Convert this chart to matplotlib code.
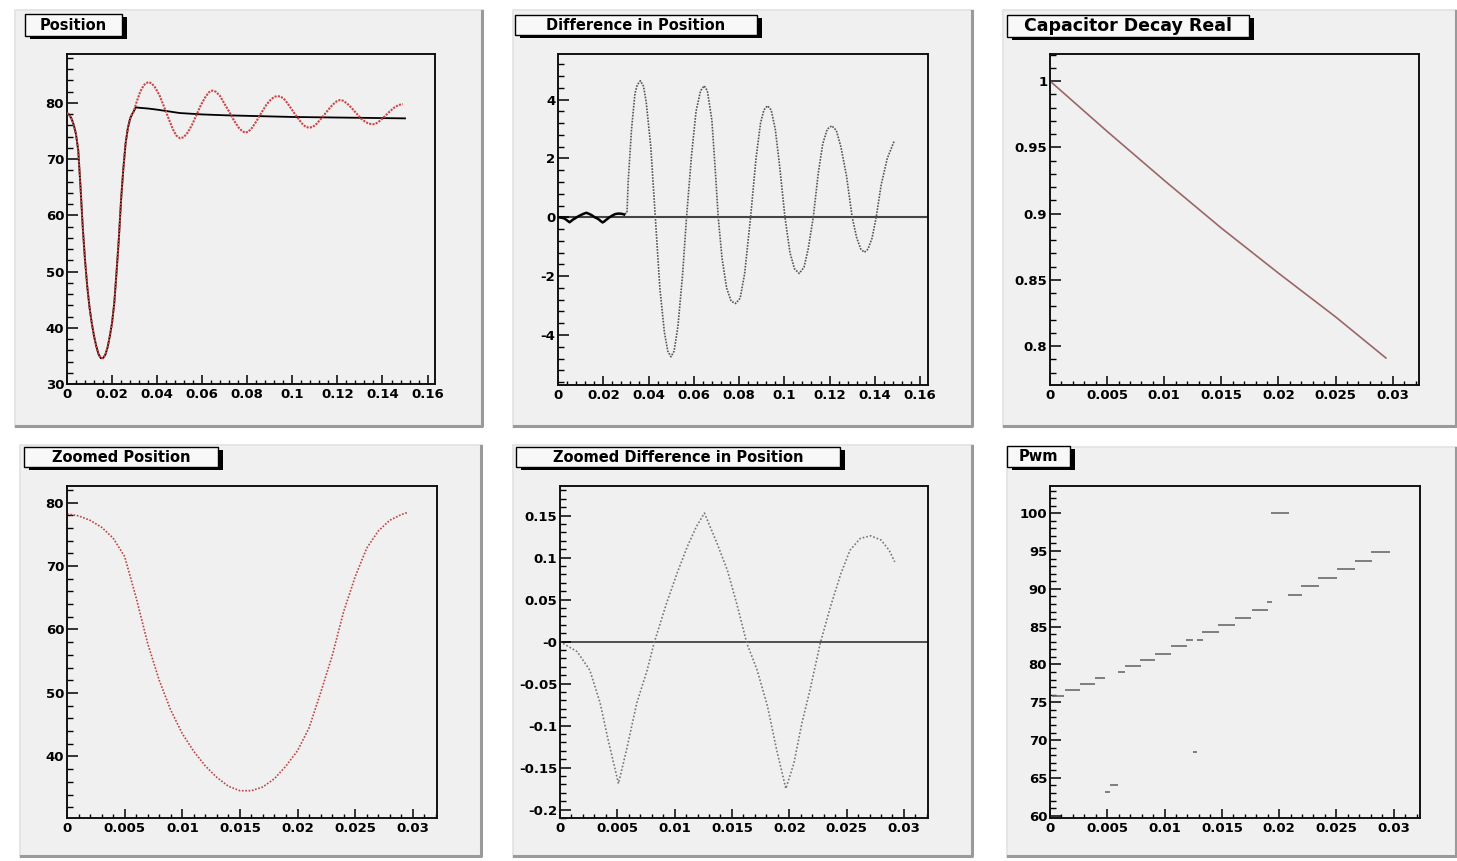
import matplotlib
matplotlib.use('Agg')
import matplotlib.pyplot as plt
from matplotlib.patches import Rectangle
from matplotlib.lines import Line2D
from matplotlib.ticker import MultipleLocator

# ---------------- data ----------------
# Zoomed position (0 .. 0.03 s)
zoom_t = [0.0, 0.001, 0.002, 0.003, 0.004, 0.005, 0.006, 0.007, 0.008, 0.009,
          0.010, 0.011, 0.012, 0.013, 0.014, 0.015, 0.016, 0.017, 0.018, 0.019,
          0.020, 0.021, 0.022, 0.023, 0.024, 0.025, 0.026, 0.027, 0.028, 0.029, 0.0295]
zoom_pos = [78.2, 77.9, 77.2, 76.1, 74.4, 71.5, 65.0, 57.8, 52.0, 47.3,
            43.6, 40.8, 38.5, 36.7, 35.3, 34.6, 34.6, 35.2, 36.5, 38.5,
            40.9, 44.5, 50.0, 55.8, 62.8, 68.3, 72.8, 75.5, 77.2, 78.1, 78.4]

# Simulated position after 0.03 s (red)
late_t = [0.031, 0.0325, 0.034, 0.035, 0.0362, 0.0375, 0.039, 0.041, 0.043, 0.045,
          0.047, 0.0485, 0.0502, 0.0518, 0.0535, 0.0555, 0.0575, 0.0595, 0.0615, 0.063,
          0.0645, 0.066, 0.0678, 0.0698, 0.072, 0.0742, 0.0762, 0.0777, 0.079, 0.0805,
          0.0822, 0.0843, 0.0865, 0.0887, 0.0907, 0.0922, 0.0935, 0.095, 0.0968, 0.0988,
          0.101, 0.103, 0.1048, 0.1062, 0.1075, 0.109, 0.1108, 0.113, 0.115, 0.117,
          0.119, 0.1198, 0.121, 0.1225, 0.1243, 0.1263, 0.1285, 0.1305, 0.1325, 0.134,
          0.1356, 0.137, 0.1388, 0.141, 0.143, 0.145, 0.147, 0.149]
late_pos = [80.3, 82.0, 83.1, 83.5, 83.7, 83.5, 82.8, 81.4, 79.4, 77.3,
            75.3, 74.2, 73.7, 73.9, 74.7, 76.1, 77.9, 79.7, 81.1, 81.9,
            82.2, 82.0, 81.3, 79.9, 78.4, 76.8, 75.6, 75.0, 74.7, 74.9,
            75.6, 76.9, 78.4, 79.8, 80.7, 81.1, 81.2, 81.1, 80.5, 79.4,
            78.1, 77.0, 76.1, 75.7, 75.6, 75.7, 76.3, 77.3, 78.3, 79.3,
            80.1, 80.3, 80.5, 80.4, 79.9, 79.1, 78.1, 77.2, 76.6, 76.3,
            76.2, 76.3, 76.8, 77.6, 78.4, 79.1, 79.6, 79.8]

# Measured position after 0.03 s (black)
real_t = [0.0295, 0.0305, 0.033, 0.036, 0.040, 0.045, 0.050, 0.060, 0.070, 0.080,
          0.090, 0.100, 0.110, 0.120, 0.130, 0.140, 0.150]
real_pos = [78.4, 79.2, 79.1, 79.0, 78.8, 78.5, 78.2, 77.95, 77.8, 77.7,
            77.6, 77.5, 77.45, 77.4, 77.35, 77.3, 77.25]

# Zoomed difference in position (0 .. 0.03 s)
zdiff_t = [0.0, 0.0015, 0.0026, 0.0035, 0.0042, 0.0051, 0.0058, 0.0067, 0.0076, 0.0082,
           0.0093, 0.0102, 0.0111, 0.0119, 0.0126, 0.0137, 0.0146, 0.0154, 0.0163, 0.0172,
           0.0181, 0.0189, 0.0197, 0.0204, 0.0211, 0.0218, 0.0227, 0.0236, 0.0245, 0.0253,
           0.0262, 0.0271, 0.0280, 0.0287, 0.0292]
zdiff = [0.0, -0.012, -0.034, -0.073, -0.117, -0.169, -0.129, -0.073, -0.034, -0.002,
         0.046, 0.081, 0.113, 0.137, 0.153, 0.117, 0.085, 0.046, -0.002, -0.034,
         -0.077, -0.129, -0.175, -0.145, -0.097, -0.058, -0.002, 0.042, 0.081, 0.109,
         0.123, 0.126, 0.121, 0.109, 0.095]

# Difference after 0.03 s
ldiff_t = [0.0295, 0.0305, 0.031, 0.0325, 0.034, 0.035, 0.0364, 0.0378, 0.039, 0.041,
           0.043, 0.045, 0.047, 0.0485, 0.0499, 0.0513, 0.053, 0.055, 0.0568, 0.059,
           0.061, 0.063, 0.0646, 0.066, 0.068, 0.0695, 0.0708, 0.0725, 0.0745, 0.0765,
           0.0785, 0.0805, 0.0825, 0.0851, 0.0875, 0.0895, 0.091, 0.0926, 0.0942, 0.096,
           0.098, 0.1003, 0.1025, 0.1045, 0.1066, 0.1087, 0.1105, 0.1128, 0.115, 0.117,
           0.119, 0.121, 0.123, 0.125, 0.1275, 0.130, 0.132, 0.1338, 0.1354, 0.137,
           0.1388, 0.1406, 0.1428, 0.1455, 0.1485]
ldiff = [0.12, 0.15, 1.2, 3.0, 4.2, 4.5, 4.64, 4.45, 3.9, 2.4,
         0.0, -2.4, -3.9, -4.55, -4.74, -4.55, -3.7, -2.0, 0.0, 2.1,
         3.6, 4.3, 4.47, 4.3, 3.3, 1.6, 0.0, -1.4, -2.4, -2.85,
         -2.93, -2.75, -1.9, 0.0, 2.0, 3.2, 3.65, 3.79, 3.65, 3.0,
         1.7, 0.0, -1.2, -1.75, -1.91, -1.7, -1.1, 0.0, 1.5, 2.5,
         3.0, 3.11, 2.95, 2.4, 1.4, 0.0, -0.7, -1.08, -1.19, -1.08,
         -0.7, 0.0, 1.1, 2.0, 2.58]

# Capacitor decay
cap_t = [0.0, 0.005, 0.010, 0.0125, 0.015, 0.020, 0.025, 0.0294]
cap_v = [1.0, 0.962, 0.925, 0.907, 0.889, 0.855, 0.822, 0.791]

# Pwm: levels held over short time spans
pwm_start = [0.00015, 0.00132, 0.00258, 0.00395, 0.00477, 0.00521, 0.00592, 0.00659, 0.00785, 0.00914,
             0.01054, 0.01186, 0.01245, 0.01283, 0.01327, 0.01465, 0.01611, 0.01763, 0.01898, 0.01933,
             0.02074, 0.02188, 0.02343, 0.02504, 0.02660, 0.02806]
pwm_end = [0.00123, 0.00264, 0.00390, 0.00483, 0.00521, 0.00595, 0.00659, 0.00791, 0.00914, 0.01054,
           0.01192, 0.01251, 0.01283, 0.01339, 0.01473, 0.01617, 0.01757, 0.01904, 0.01939, 0.02085,
           0.02203, 0.02349, 0.02504, 0.02660, 0.02812, 0.02964]
pwm_val = [75.8, 76.6, 77.4, 78.2, 63.15, 64.0, 79.0, 79.8, 80.6, 81.45,
           82.4, 83.3, 68.4, 83.3, 84.25, 85.2, 86.2, 87.2, 88.2, 100.0,
           89.2, 90.4, 91.5, 92.6, 93.7, 94.9]

titles = ["Position", "Difference in Position", "Capacitor Decay Real",
          "Zoomed Position", "Zoomed Difference in Position", "Pwm"]

# ---------------- layout ----------------
W, H = 1457, 861
fig = plt.figure(figsize=(W / 100, H / 100), dpi=100)
fig.patch.set_facecolor('white')
PADC = '#f0f0f0'
FONT = 'DejaVu Sans'


def frect(x0, y0, x1, y1):
    return [x0 / W, 1 - y1 / H, (x1 - x0) / W, (y1 - y0) / H]


def prect(x0, y0, x1, y1, **kw):
    return Rectangle((x0 / W, 1 - y1 / H), (x1 - x0) / W, (y1 - y0) / H,
                     transform=fig.transFigure, **kw)


def pline(xs, ys, **kw):
    fig.add_artist(Line2D([x / W for x in xs], [1 - y / H for y in ys],
                          transform=fig.transFigure, **kw))


pads = [(15, 10, 483, 427), (513, 10, 973, 427), (1003, 10, 1457, 427),
        (20, 445, 482, 857), (513, 445, 973, 857), (1007, 447, 1457, 857)]
for (x0, y0, x1, y1) in pads:
    fig.add_artist(prect(x0, y0, x1, y1, facecolor=PADC, edgecolor='none', zorder=-10))
    pline([x0, x0, x1], [y1, y0, y0], color='#e2e2e2', lw=1.2, zorder=-9)
    pline([x0 + 1, x1 - 1, x1 - 1], [y1 - 1.5, y1 - 1.5, y0 + 1], color='#9a9a9a', lw=2.2, zorder=-9)

boxes = [(25, 14, 122, 36), (515, 15, 757, 35), (1007, 15, 1249, 37),
         (24, 447, 218, 467), (516, 447, 840, 467), (1007, 446, 1070, 467)]
tsizes = [10.5, 10.5, 12.5, 10.5, 10.5, 10.5]
for (x0, y0, x1, y1), t, fs in zip(boxes, titles, tsizes):
    fig.add_artist(prect(x0 + 5, y0 + 3, x1 + 5, y1 + 3, facecolor='black', edgecolor='none', zorder=5))
    fig.add_artist(prect(x0, y0, x1, y1, facecolor='#f8f8f8', edgecolor='black', lw=1.0, zorder=6))
    fig.text((x0 + x1) / 2 / W, 1 - (y0 + y1) / 2 / H, t, ha='center', va='center',
             fontsize=fs, fontweight='bold', family=FONT, zorder=7)

axrects = [(67, 54, 435, 384), (558, 54, 928, 385), (1050, 54, 1419, 385),
           (67, 486, 437, 818), (560, 486, 928, 818), (1050, 486, 1420, 818)]
axes = []
for r in axrects:
    ax = fig.add_axes(frect(*r))
    ax.set_facecolor(PADC)
    for s in ax.spines.values():
        s.set_linewidth(1.4)
        s.set_color('#111111')
    ax.xaxis.set_tick_params(which='major', direction='in', length=6.5, width=1.1, pad=3)
    ax.xaxis.set_tick_params(which='minor', direction='in', length=3.2, width=1.0)
    ax.yaxis.set_tick_params(which='major', direction='in', length=8.0, width=1.1, pad=2)
    ax.yaxis.set_tick_params(which='minor', direction='in', length=4.0, width=1.0)
    ax.tick_params(which='both', top=False, right=False, labelsize=9.5)
    axes.append(ax)


def set_ticks(ax, xt, xl, xminor, yt, yl, yminor):
    ax.set_xticks(xt)
    ax.set_xticklabels(xl, fontweight='bold', family=FONT, fontsize=9.5)
    ax.set_yticks(yt)
    ax.set_yticklabels(yl, fontweight='bold', family=FONT, fontsize=9.5)
    ax.xaxis.set_minor_locator(MultipleLocator(xminor))
    ax.yaxis.set_minor_locator(MultipleLocator(yminor))


long_xt = [0, 0.02, 0.04, 0.06, 0.08, 0.1, 0.12, 0.14, 0.16]
long_xl = ['0', '0.02', '0.04', '0.06', '0.08', '0.1', '0.12', '0.14', '0.16']
short_xt = [0, 0.005, 0.01, 0.015, 0.02, 0.025, 0.03]
short_xl = ['0', '0.005', '0.01', '0.015', '0.02', '0.025', '0.03']

# 1: Position
ax = axes[0]
ax.plot(zoom_t + real_t, zoom_pos + real_pos, color='black', lw=1.3, zorder=2)
ax.plot(zoom_t + late_t, zoom_pos + late_pos, color='#cc4444', lw=1.5, ls=(0, (1, 0.6)), zorder=3)
ax.set_xlim(0, 0.1633)
ax.set_ylim(30, 88.7)
set_ticks(ax, long_xt, long_xl, 0.004, [30, 40, 50, 60, 70, 80],
          ['30', '40', '50', '60', '70', '80'], 2)

# 2: Difference in position
ax = axes[1]
ax.axhline(0, color='#444444', lw=1.5, zorder=1)
ax.plot(ldiff_t, ldiff, color='#555555', lw=1.2, ls=(0, (1, 0.8)), zorder=2)
ax.plot(zdiff_t, zdiff, color='black', lw=1.8, zorder=3)
ax.set_xlim(0, 0.1635)
ax.set_ylim(-5.7, 5.55)
set_ticks(ax, long_xt, long_xl, 0.004, [-4, -2, 0, 2, 4], ['-4', '-2', '0', '2', '4'], 0.4)

# 3: Capacitor decay
ax = axes[2]
ax.plot(cap_t, cap_v, color='#9a6666', lw=1.2)
ax.set_xlim(0, 0.0323)
ax.set_ylim(0.7706, 1.0204)
set_ticks(ax, short_xt, short_xl, 0.001, [0.8, 0.85, 0.9, 0.95, 1.0],
          ['0.8', '0.85', '0.9', '0.95', '1'], 0.01)

# 4: Zoomed position
ax = axes[3]
ax.plot(zoom_t, zoom_pos, color='#bb4444', lw=1.2, ls=(0, (1, 1)))
ax.set_xlim(0, 0.0321)
ax.set_ylim(30.3, 82.6)
set_ticks(ax, short_xt, short_xl, 0.001, [40, 50, 60, 70, 80],
          ['40', '50', '60', '70', '80'], 2)

# 5: Zoomed difference
ax = axes[4]
ax.axhline(0, color='#222222', lw=1.1, zorder=1)
ax.plot(zdiff_t, zdiff, color='#777777', lw=1.2, ls=(0, (1, 1.2)), zorder=2)
ax.set_xlim(0, 0.0321)
ax.set_ylim(-0.210, 0.1853)
set_ticks(ax, short_xt, short_xl, 0.001,
          [-0.2, -0.15, -0.1, -0.05, 0, 0.05, 0.1, 0.15],
          ['-0.2', '-0.15', '-0.1', '-0.05', '-0', '0.05', '0.1', '0.15'], 0.01)

# 6: Pwm
ax = axes[5]
ax.hlines(pwm_val, pwm_start, pwm_end, colors='#6a6a6a', lw=1.2)
ax.set_xlim(0, 0.0323)
ax.set_ylim(59.7, 103.6)
set_ticks(ax, short_xt, short_xl, 0.001, [60, 65, 70, 75, 80, 85, 90, 95, 100],
          ['60', '65', '70', '75', '80', '85', '90', '95', '100'], 1)

fig.savefig('out.png', dpi=100, facecolor=fig.get_facecolor())
